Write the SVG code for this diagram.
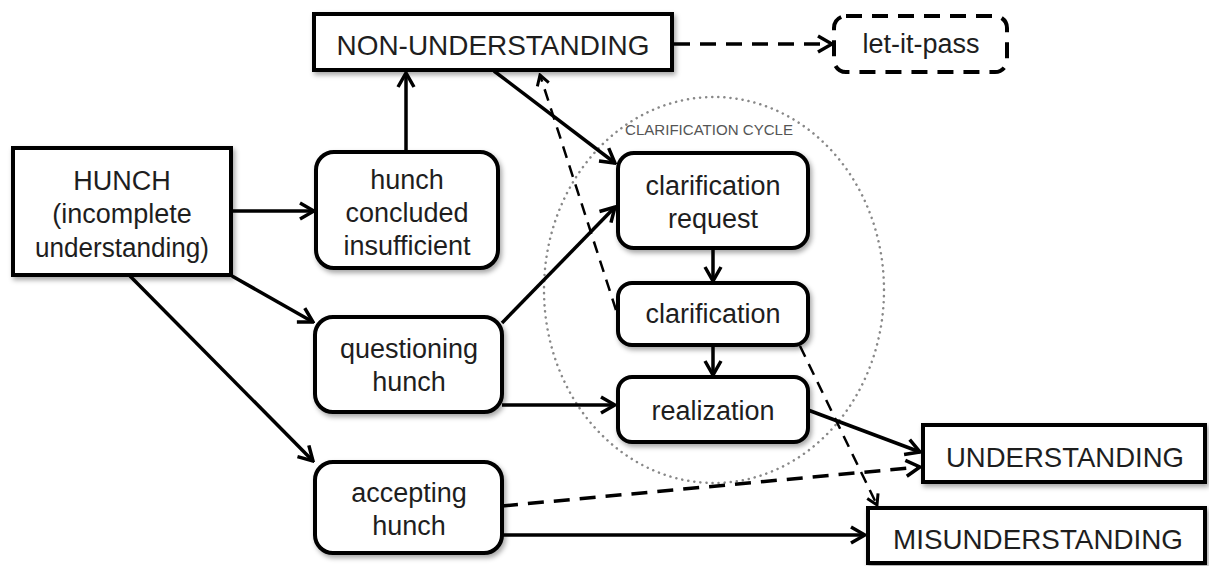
<svg xmlns="http://www.w3.org/2000/svg" width="1209" height="566" viewBox="0 0 1209 566">
<defs>
<filter id="sh" x="-10%" y="-10%" width="130%" height="140%">
<feDropShadow dx="2" dy="3" stdDeviation="2.5" flood-color="#000" flood-opacity="0.35"/>
</filter>
<marker id="ar" viewBox="0 0 18 20" refX="16" refY="10" markerWidth="18" markerHeight="20" markerUnits="userSpaceOnUse" orient="auto">
<path d="M2,2 L16,10 L2,18" fill="none" stroke="#000" stroke-width="3.5" stroke-linejoin="miter"/>
</marker>
<marker id="ars" viewBox="0 0 14 16" refX="12" refY="8" markerWidth="14" markerHeight="16" markerUnits="userSpaceOnUse" orient="auto">
<path d="M2,2 L12,8 L2,14" fill="none" stroke="#000" stroke-width="3"/>
</marker>
</defs>
<style>
.box{fill:#fff;stroke:#000;stroke-width:4;filter:url(#sh)}
.t{font-family:"Liberation Sans",Arial,sans-serif;font-size:27px;fill:#1e1e1e;text-anchor:middle}
.cap{font-family:"Liberation Sans",Arial,sans-serif;font-size:28px;fill:#1e1e1e;text-anchor:middle}
.c{fill:none;stroke:#000;stroke-width:3.5}
.d{fill:none;stroke:#000;stroke-width:3.5;stroke-dasharray:16 10}
.dt{fill:none;stroke:#000;stroke-width:2.5;stroke-dasharray:12 8}
</style>
<rect width="1209" height="566" fill="#fff"/>

<g id="cycle">
<ellipse cx="714" cy="290" rx="170" ry="193" fill="none" stroke="#888" stroke-width="2.5" stroke-dasharray="0.1 6" stroke-linecap="round"/>
<text x="709" y="135" font-family="Liberation Sans,Arial,sans-serif" font-size="14" fill="#555" text-anchor="middle" textLength="168" lengthAdjust="spacingAndGlyphs">CLARIFICATION CYCLE</text>
</g>

<g id="connectors">
<line class="c" x1="232" y1="211" x2="314" y2="211" marker-end="url(#ar)"/>
<line class="c" x1="406" y1="152" x2="406" y2="73" marker-end="url(#ar)"/>
<line class="c" x1="494" y1="71" x2="615" y2="163" marker-end="url(#ar)"/>
<line class="c" x1="232" y1="276" x2="313" y2="322" marker-end="url(#ar)"/>
<line class="c" x1="130" y1="276" x2="313" y2="461" marker-end="url(#ar)"/>
<line class="c" x1="502" y1="323" x2="615" y2="207" marker-end="url(#ar)"/>
<line class="c" x1="502" y1="405" x2="615" y2="405" marker-end="url(#ar)"/>
<line class="c" x1="713" y1="248" x2="713" y2="281" marker-end="url(#ar)"/>
<line class="c" x1="713" y1="345" x2="713" y2="375" marker-end="url(#ar)"/>
<line class="c" x1="808" y1="410" x2="920" y2="452" marker-end="url(#ar)"/>
<line class="d" x1="502" y1="506" x2="920" y2="467" marker-end="url(#ar)"/>
<line class="c" x1="502" y1="535" x2="865" y2="535" marker-end="url(#ar)"/>
<line class="d" x1="674" y1="44" x2="832" y2="44" marker-end="url(#ar)"/>
<line class="dt" x1="616" y1="310" x2="540" y2="75" marker-end="url(#ars)"/>
<line class="dt" x1="800" y1="346" x2="877" y2="505" marker-end="url(#ars)"/>
</g>

<g id="non-understanding">
<rect class="box" x="314" y="14" width="358" height="56"/>
<text class="cap" x="493" y="55" textLength="313" lengthAdjust="spacingAndGlyphs">NON-UNDERSTANDING</text>
</g>

<g id="let-it-pass">
<rect x="834" y="16" width="173" height="56" rx="12" fill="#fff" stroke="#000" stroke-width="4" stroke-dasharray="16 10"/>
<text class="t" x="921" y="53">let-it-pass</text>
</g>

<g id="hunch">
<rect class="box" x="13" y="148" width="218" height="127"/>
<text class="t" x="122" y="190">HUNCH</text>
<text class="t" x="122" y="223">(incomplete</text>
<text class="t" x="122" y="257" textLength="174" lengthAdjust="spacingAndGlyphs">understanding)</text>
</g>

<g id="hunch-concluded">
<rect class="box" x="316" y="152" width="182" height="116" rx="18"/>
<text class="t" x="407" y="189">hunch</text>
<text class="t" x="407" y="222">concluded</text>
<text class="t" x="407" y="255">insufficient</text>
</g>

<g id="questioning-hunch">
<rect class="box" x="315" y="317" width="187" height="95" rx="18"/>
<text class="t" x="409" y="358">questioning</text>
<text class="t" x="409" y="391">hunch</text>
</g>

<g id="accepting-hunch">
<rect class="box" x="315" y="462" width="187" height="91" rx="18"/>
<text class="t" x="409" y="502">accepting</text>
<text class="t" x="409" y="535">hunch</text>
</g>

<g id="clarification-request">
<rect class="box" x="618" y="153" width="190" height="95" rx="16"/>
<text class="t" x="713" y="195">clarification</text>
<text class="t" x="713" y="228">request</text>
</g>

<g id="clarification">
<rect class="box" x="618" y="283" width="190" height="62" rx="14"/>
<text class="t" x="713" y="323">clarification</text>
</g>

<g id="realization">
<rect class="box" x="618" y="377" width="190" height="65" rx="14"/>
<text class="t" x="713" y="420">realization</text>
</g>

<g id="understanding">
<rect class="box" x="923" y="425" width="282" height="57"/>
<text class="cap" x="1065" y="467" textLength="238" lengthAdjust="spacingAndGlyphs">UNDERSTANDING</text>
</g>

<g id="misunderstanding">
<rect class="box" x="868" y="508" width="337" height="55"/>
<text class="cap" x="1038" y="549" textLength="290" lengthAdjust="spacingAndGlyphs">MISUNDERSTANDING</text>
</g>
</svg>
